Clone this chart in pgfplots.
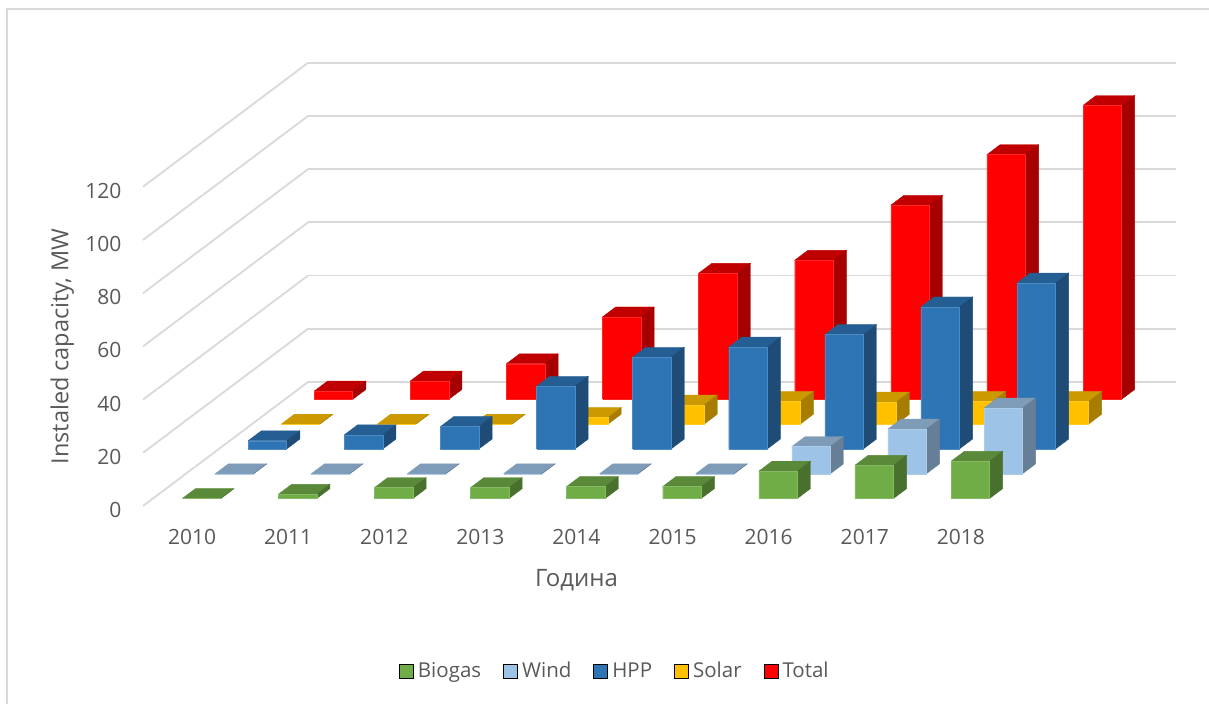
\documentclass[border=0pt]{standalone}
\usepackage{fontspec}
\usepackage{pgfplots}
\pgfplotsset{compat=1.18}
\setmainfont{Open Sans}
\definecolor{gridc}{HTML}{D9D9D9}
\definecolor{txt}{HTML}{595959}
\definecolor{gF}{HTML}{70AD47}\definecolor{gT}{HTML}{5A8A39}\definecolor{gS}{HTML}{4A702E}
\definecolor{wF}{HTML}{9DC3E6}\definecolor{wT}{HTML}{7E9CB8}\definecolor{wS}{HTML}{667F96}
\definecolor{hF}{HTML}{2E75B6}\definecolor{hT}{HTML}{255E92}\definecolor{hS}{HTML}{1E4C76}
\definecolor{sF}{HTML}{FFC000}\definecolor{sT}{HTML}{CC9A00}\definecolor{sS}{HTML}{A67D00}
\definecolor{tF}{HTML}{FF0000}\definecolor{tT}{HTML}{C00000}\definecolor{tS}{HTML}{A60000}
% one row of bars: row number, colour prefix, values 2010..2018
\newcommand{\barrow}[3]{%
  \pgfmathsetmacro{\yf}{#1+0.3}\pgfmathsetmacro{\yb}{#1+0.7}%
  \foreach \v [count=\i from 0] in {#3} {%
    \pgfmathsetmacro{\xl}{\i+0.305}\pgfmathsetmacro{\xr}{\i+0.705}%
    \addplot3[forget plot,mark=none,fill=#2T,draw=#2T,line width=0.4pt] coordinates {(\xl,\yf,\v)(\xr,\yf,\v)(\xr,\yb,\v)(\xl,\yb,\v)(\xl,\yf,\v)};
    \addplot3[forget plot,mark=none,fill=#2S,draw=#2S,line width=0.4pt] coordinates {(\xr,\yf,0)(\xr,\yb,0)(\xr,\yb,\v)(\xr,\yf,\v)(\xr,\yf,0)};
    \addplot3[forget plot,mark=none,fill=#2F,draw=#2F!85!white,line width=0.4pt] coordinates {(\xl,\yf,0)(\xr,\yf,0)(\xr,\yf,\v)(\xl,\yf,\v)(\xl,\yf,0)};
  }%
}
\begin{document}
\begin{tikzpicture}[x=1pt,y=1pt]
\useasboundingbox (0,0) rectangle (1209,704);
\draw[gridc,line width=1.5pt] (7,0) -- (7,695) -- (1209,695);
\begin{axis}[
  at={(143pt,198pt)},anchor=origin,
  x={(96.1pt,0pt)},y={(33pt,24.8pt)},z={(0pt,2.66pt)},
  xmin=0,xmax=9.03,ymin=0,ymax=5,zmin=0,zmax=120,
  clip=false,
  axis line style={draw=none},
  tick style={draw=none},
  grid=none,zmajorgrids=true,
  grid style={gridc,line width=1.8pt},
  xtick={0.5,1.5,...,8.5},
  xticklabels={2010,2011,2012,2013,2014,2015,2016,2017,2018},
  ytick=\empty,
  ztick={0,20,...,120},
  /pgf/number format/assume math mode=true,
  ticklabel style={font=\fontsize{21}{24}\selectfont,text=txt},
  xticklabel style={anchor=center,yshift=-31pt,xshift=1pt},
  zticklabel style={anchor=east,xshift=-18pt,yshift=-4pt},
  xlabel={Година},
  zlabel={Instaled capacity, MW},
  label style={font=\fontsize{24}{28}\selectfont,text=txt},
  xlabel style={at={(axis cs:4.51,0,-27.8)},anchor=center},
  zlabel style={font=\fontsize{23.5}{28}\selectfont,at={(axis cs:-0.84,0,60)},anchor=center,rotate=0},
  legend columns=5,
  legend style={at={(axis cs:4.91,0,-62)},anchor=center,draw=none,fill=none,
    font=\fontsize{20.5}{22}\selectfont,text=txt,
    /tikz/every even column/.append style={column sep=20pt}},
  legend image code/.code={\fill[#1] (0pt,-7pt) rectangle (14pt,7pt);\path (16.5pt,0pt);},
]
\addlegendimage{fill=gF}\addlegendentry{Biogas}
\addlegendimage{fill=wF}\addlegendentry{Wind}
\addlegendimage{fill=hF}\addlegendentry{HPP}
\addlegendimage{fill=sF}\addlegendentry{Solar}
\addlegendimage{fill=tF}\addlegendentry{Total}
\barrow{4}{t}{3.1,6.9,13.4,31,47.4,52.3,73,92,110.5}
\barrow{3}{s}{0,0,0,2.5,7.2,8.5,8.3,8.5,8.5}
\barrow{2}{h}{3.1,5.3,8.4,23.6,34.5,38.3,43,53.4,62.4}
\barrow{1}{w}{0,0,0,0,0,0,10.2,16.8,24.7}
\barrow{0}{g}{0,1.6,4.1,4.1,4.5,4.5,10.3,12.5,14}
\end{axis}
\end{tikzpicture}
\end{document}
